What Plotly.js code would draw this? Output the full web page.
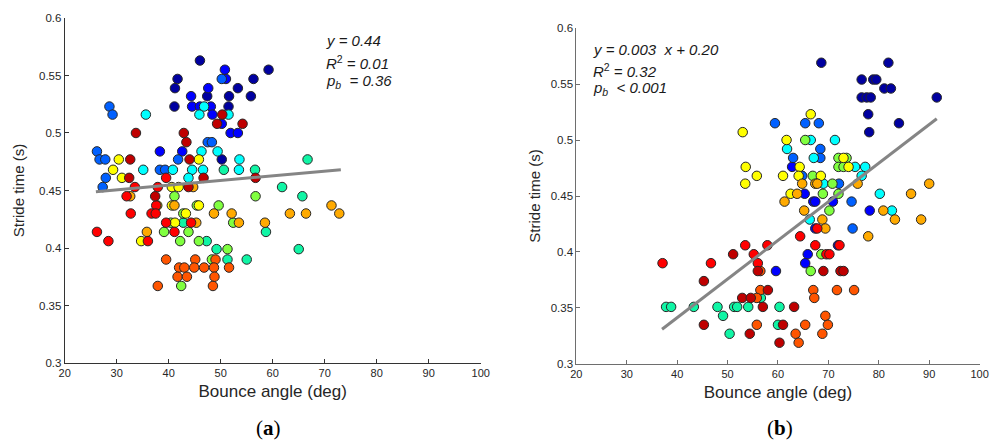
<!DOCTYPE html>
<html><head><meta charset="utf-8">
<script src="https://cdn.plot.ly/plotly-3.0.1.min.js"></script>
<style>html,body{margin:0;padding:0;background:#fff}#chart{width:991px;height:444px}</style>
</head><body><div id="chart"></div>
<script>
// subject groups (colour classes)
const groups = ['N','B','A','C','Q','G','Y','O','OR','R','D'];

// Panel (a): bounce angle (deg), stride time (s), subject group
const aX = [46.0,50.8,50.2,51.0,41.7,56.3,59.2,41.2,47.6,53.3,44.3,47.4,51.6,55.8,28.6,29.2,35.6,41.1,44.5,46.0,
46.8,48.1,51.5,45.9,48.4,50.3,51.5,49.3,50.2,54.2,51.9,53.3,33.7,42.9,43.4,47.5,48.3,26.2,26.7,27.8,
30.4,32.6,38.3,42.6,46.3,49.4,41.8,44.0,45.8,50.2,53.6,29.3,35.1,38.3,39.3,40.8,44.5,46.6,50.6,53.5,
56.6,27.9,31.0,32.4,39.5,43.8,46.7,56.7,27.3,33.5,37.9,40.6,41.9,43.8,44.7,66.7,61.8,31.9,32.6,37.4,
41.1,56.7,37.6,37.8,40.6,41.1,45.4,45.8,49.6,32.7,36.7,37.5,42.8,43.3,48.7,52.1,26.2,28.4,35.8,34.7,
36.0,39.5,40.4,41.2,42.8,44.3,45.3,52.4,53.5,58.5,39.1,41.1,43.8,58.7,42.2,45.8,47.3,49.2,51.3,39.5,
45.1,48.3,49.0,51.3,55.0,42.0,43.0,44.9,46.8,48.7,51.6,41.7,43.5,48.8,37.9,42.4,48.5,65.7,71.3,63.3,
66.4,72.8,65.0];
const aY = [0.563,0.555,0.547,0.547,0.547,0.547,0.555,0.539,0.539,0.539,0.532,0.532,0.532,0.532,0.523,0.516,0.516,0.523,0.523,0.523,
0.523,0.523,0.523,0.516,0.516,0.516,0.516,0.508,0.508,0.508,0.500,0.500,0.500,0.500,0.492,0.492,0.492,0.484,0.477,0.477,
0.477,0.477,0.484,0.484,0.484,0.484,0.477,0.477,0.477,0.477,0.477,0.468,0.468,0.468,0.468,0.468,0.468,0.468,0.468,0.468,
0.468,0.461,0.461,0.461,0.461,0.461,0.461,0.461,0.453,0.453,0.453,0.453,0.453,0.453,0.453,0.477,0.453,0.445,0.445,0.445,
0.445,0.445,0.437,0.437,0.437,0.437,0.437,0.437,0.437,0.430,0.430,0.430,0.430,0.430,0.430,0.430,0.414,0.406,0.414,0.406,
0.406,0.422,0.422,0.422,0.422,0.422,0.422,0.422,0.422,0.422,0.414,0.414,0.414,0.414,0.406,0.406,0.406,0.399,0.399,0.390,
0.390,0.390,0.390,0.390,0.390,0.383,0.383,0.383,0.383,0.383,0.383,0.375,0.375,0.375,0.367,0.367,0.367,0.445,0.437,0.430,
0.430,0.430,0.399];
const aG = ['N','B','A','B','N','N','N','N','B','N','B','N','N','N','A','A','C','N','B','B',
'C','B','N','C','B','D','C','D','B','D','B','B','D','D','D','A','A','A','A','A',
'Y','D','B','B','C','C','A','D','Y','N','C','Y','C','A','A','C','C','C','Q','C',
'Q','A','Y','D','R','C','D','D','A','R','R','Y','Y','D','O','Q','Q','R','O','D',
'G','G','R','Y','Y','O','G','Y','G','R','R','R','G','Y','O','O','R','R','O','Y',
'R','R','G','Y','Q','R','O','G','O','O','G','R','G','Q','G','G','Q','Q','G','OR',
'OR','G','OR','Q','Q','OR','OR','OR','OR','OR','OR','OR','OR','OR','OR','G','OR','Q','O','O',
'O','O','Q'];

// Panel (b)
const bX = [59.4,53.0,53.6,55.8,53.5,68.6,81.9,76.6,78.9,79.5,81.1,82.4,76.6,77.6,78.4,91.5,77.9,84.0,78.1,65.4,
68.1,66.5,61.7,65.4,66.5,71.3,61.8,68.4,63.0,67.1,68.4,72.0,73.0,73.6,62.8,64.3,72.0,73.0,74.0,75.3,
77.3,61.0,64.1,64.8,66.9,68.5,76.6,64.8,67.4,67.8,69.0,70.8,72.1,75.8,90.0,62.5,63.8,65.3,68.9,72.0,
80.2,86.4,61.3,67.0,67.4,70.9,74.6,65.2,70.2,78.2,80.9,82.6,66.3,68.8,83.2,88.4,67.4,67.8,69.4,74.8,
77.9,64.4,57.9,67.4,71.9,72.2,65.9,68.6,69.6,70.2,56.0,65.4,56.0,56.5,59.6,66.5,69.0,72.4,73.0,56.5,
58.0,67.0,71.7,75.1,56.6,67.2,57.0,60.3,63.2,69.4,55.8,60.0,61.0,65.4,69.9,63.5,68.8,60.3,64.1,37.1,
46.7,51.1,53.5,55.2,45.3,52.9,54.6,55.8,37.8,38.8,43.3,48.0,51.3,51.9,54.1,49.1,45.3,50.4,54.4];
const bY = [0.515,0.507,0.476,0.468,0.461,0.569,0.569,0.554,0.554,0.554,0.546,0.546,0.538,0.538,0.538,0.538,0.523,0.515,0.507,0.515,
0.515,0.523,0.500,0.500,0.500,0.500,0.492,0.492,0.484,0.484,0.484,0.484,0.484,0.484,0.476,0.476,0.476,0.476,0.476,0.476,
0.476,0.468,0.468,0.468,0.468,0.468,0.468,0.461,0.461,0.461,0.461,0.461,0.461,0.461,0.461,0.452,0.452,0.452,0.452,0.452,
0.452,0.452,0.445,0.445,0.445,0.445,0.445,0.437,0.437,0.437,0.437,0.437,0.429,0.429,0.429,0.429,0.421,0.421,0.421,0.421,
0.414,0.414,0.406,0.406,0.406,0.406,0.398,0.398,0.398,0.398,0.390,0.390,0.383,0.383,0.383,0.383,0.383,0.383,0.383,0.366,
0.366,0.366,0.366,0.366,0.359,0.359,0.351,0.351,0.351,0.343,0.335,0.335,0.335,0.335,0.335,0.327,0.327,0.319,0.319,0.390,
0.390,0.398,0.406,0.398,0.374,0.359,0.359,0.359,0.351,0.351,0.351,0.351,0.351,0.351,0.351,0.343,0.335,0.327,0.327];
const bG = ['A','Y','Y','Y','Y','N','N','N','N','N','N','N','N','N','N','N','N','N','N','A',
'A','Y','Y','G','C','C','C','A','A','C','A','G','Y','G','B','Y','G','G','Y','C',
'C','Y','Y','A','G','Y','C','O','O','O','C','G','A','O','O','Y','O','B','G','G',
'C','O','O','B','B','B','A','O','G','B','O','C','C','O','O','O','B','R','O','A',
'O','R','R','R','B','R','B','G','R','R','R','B','D','OR','B','G','D','D','D','OR',
'D','OR','OR','OR','Q','OR','D','Q','D','OR','OR','Q','D','OR','OR','OR','OR','D','OR','R',
'R','D','R','R','D','D','D','OR','Q','Q','Q','Q','Q','Q','Q','Q','D','Q','D'];

// fitted lines (end points)
const aFitX = [26.0, 73.1], aFitY = [0.449, 0.468];
const bFitX = [37.0, 91.5], bFitY = [0.331, 0.519];

// ticks
const xTicks = [20,30,40,50,60,70,80,90,100];
const xTickText = ['20','30','40','50','60','70','80','90','100'];
const yTicks = [0.3,0.35,0.4,0.45,0.5,0.55,0.6];
const yTickText = ['0.3','0.35','0.4','0.45','0.5','0.55','0.6'];

const palette = {N:'#0000A0',B:'#0000FF',A:'#0060FF',C:'#00FFFF',Q:'#10F5A5',G:'#80FF40',
  Y:'#FFFF00',O:'#FFAA00',OR:'#FF5500',R:'#FF0000',D:'#BF0000'};

function scatterTraces(X, Y, G, xa, ya) {
  return groups.map(g => {
    const idx = G.map((v, i) => v === g ? i : -1).filter(i => i >= 0);
    return {type:'scatter', mode:'markers', x: idx.map(i => X[i]), y: idx.map(i => Y[i]),
      xaxis: xa, yaxis: ya, hoverinfo:'skip', cliponaxis:false,
      marker:{size:9.5, color: palette[g], line:{color:'#262626', width:1}}};
  });
}
const lineA = {type:'scatter', mode:'lines', x:aFitX, y:aFitY, xaxis:'x', yaxis:'y',
  line:{color:'#858585', width:3}, hoverinfo:'skip'};
const lineB = {type:'scatter', mode:'lines', x:bFitX, y:bFitY, xaxis:'x2', yaxis:'y2',
  line:{color:'#858585', width:3}, hoverinfo:'skip'};

const data = [...scatterTraces(aX, aY, aG, 'x', 'y'), lineA, ...scatterTraces(bX, bY, bG, 'x2', 'y2'), lineB];

const FONT = 'Liberation Sans, Arial, sans-serif';
function xAxis(domain, anchor, lc) {
  return {domain, anchor, range:[20,100], tickvals:xTicks, ticktext:xTickText, ticks:'inside', ticklen:4,
    tickcolor:lc, showline:true, linecolor:lc, linewidth:1, showgrid:false, zeroline:false,
    ticklabeloverflow:'allow',
    tickfont:{family:FONT, size:11, color:'#262626'},
    title:{text:'Bounce angle (deg)', font:{family:FONT, size:17, color:'#262626'}, standoff:6}};
}
function yAxis(domain, anchor, lc, so) {
  return {domain, anchor, range:[0.3,0.6], tickvals:yTicks, ticktext:yTickText, ticks:'inside', ticklen:4,
    tickcolor:lc, showline:true, linecolor:lc, linewidth:1, showgrid:false, zeroline:false,
    ticklabeloverflow:'allow',
    tickfont:{family:FONT, size:11.5, color:'#262626'},
    title:{text:'Stride time (s)', font:{family:FONT, size:15, color:'#262626'}, standoff:so}};
}
const annFont = {family:FONT, size:15, color:'#1a1a1a'};
function ann(text, x, y) {
  return {text, x, y, xref:'paper', yref:'paper', xanchor:'left', yanchor:'middle', showarrow:false, font:annFont};
}
const layout = {
  width:991, height:444, margin:{l:0, r:0, t:0, b:0}, paper_bgcolor:'#fff', plot_bgcolor:'#fff',
  showlegend:false,
  xaxis: xAxis([0.0653,0.4851], 'y', '#333'),
  yaxis: yAxis([0.1824,0.9595], 'x', '#333', 10),
  xaxis2: xAxis([0.5816,0.9885], 'y2', '#6e6e6e'),
  yaxis2: yAxis([0.1802,0.9369], 'x2', '#6e6e6e', 6),
  annotations: [
    ann('<i>y = 0.44</i>', 0.327, 0.9077),
    ann('<i>R</i><sup>2</sup><i> = 0.01</i>', 0.327, 0.8588),
    ann('<i>p</i><sub><i>b</i></sub><i>&nbsp; = 0.36</i>', 0.327, 0.816),
    ann('<i>y = 0.003 &nbsp;x + 0.20</i>', 0.596, 0.889),
    ann('<i>R</i><sup>2</sup><i> = 0.32</i>', 0.596, 0.8423),
    ann('<i>p</i><sub><i>b</i></sub><i>&nbsp; &lt; 0.001</i>', 0.596, 0.8011),
    {text:'(<b>a</b>)', x:0.2705, y:0.036, xref:'paper', yref:'paper', xanchor:'center', yanchor:'middle',
      showarrow:false, font:{family:'Liberation Serif, serif', size:21, color:'#000'}},
    {text:'(<b>b</b>)', x:0.787, y:0.036, xref:'paper', yref:'paper', xanchor:'center', yanchor:'middle',
      showarrow:false, font:{family:'Liberation Serif, serif', size:21, color:'#000'}}
  ]
};
Plotly.newPlot('chart', data, layout, {displayModeBar:false, staticPlot:true});
</script></body></html>
